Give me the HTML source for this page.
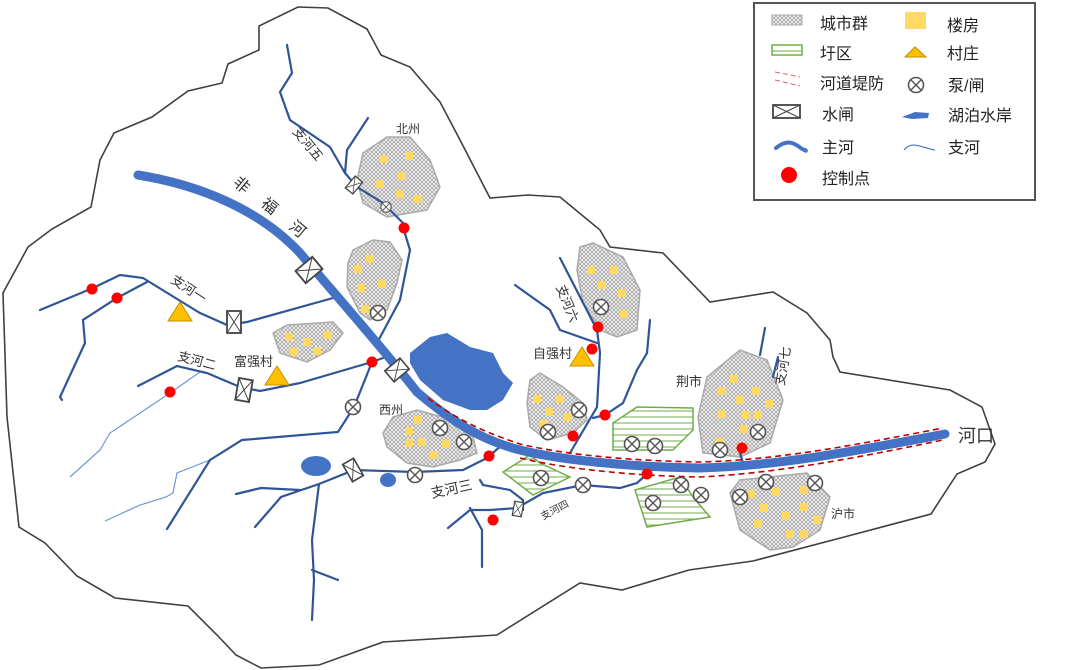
<!DOCTYPE html>
<html><head><meta charset="utf-8"><style>
html,body{margin:0;padding:0;background:#fff;}
svg{display:block;font-family:"Liberation Sans","Noto Sans CJK SC",sans-serif;}
</style></head><body>
<svg width="1080" height="670" viewBox="0 0 1080 670" xmlns="http://www.w3.org/2000/svg">
<defs>
<pattern id="hatch" width="4" height="4" patternUnits="userSpaceOnUse">
<rect width="4" height="4" fill="#f4f4f4"/>
<path d="M0 0L4 4M4 0L0 4" stroke="#999" stroke-width="0.7"/>
</pattern>
<pattern id="green" width="6" height="6" patternUnits="userSpaceOnUse">
<rect width="6" height="6" fill="#fff"/>
<path d="M0 3H6" stroke="#70AD47" stroke-width="1"/>
</pattern>
<g id="pump"><circle r="7.5" fill="#fff" stroke="#555" stroke-width="1.6"/><path d="M-5.3 -5.3L5.3 5.3M5.3 -5.3L-5.3 5.3" stroke="#555" stroke-width="1.4"/></g>
<g id="gate"><rect x="-11" y="-8" width="22" height="16" fill="#fff" stroke="#444" stroke-width="1.8"/><path d="M-11 -8L11 8M11 -8L-11 8" stroke="#444" stroke-width="1"/></g>
<g id="vgate"><rect x="-7" y="-11" width="14" height="22" fill="#fff" stroke="#444" stroke-width="1.8"/><path d="M-7 -11L7 11M7 -11L-7 11" stroke="#444" stroke-width="1"/></g>
<g id="tri"><path d="M0 -11L12 8H-12Z" fill="#FFC000" stroke="#C09000" stroke-width="1"/></g>
</defs>

<!-- boundary -->
<path d="M298 7L328 8L367 29L381 55L410 67L440 102L459 138L490 198L528 195L560 197L600 230L610 247L663 253L710 302L773 292L807 313L830 340L833 357L840 372L950 390L982 407L995 444L985 462L957 474L931 514L848 536L753 561L689 570L622 590L580 583L497 635L383 642L319 665L261 668L236 655L217 635L188 606L115 598L77 576L45 543L19 527L7 417L3 293L28 247L52 229L91 207L100 160L114 133L152 117L188 91L222 83L228 64L259 50L259 26Z" fill="#fff" stroke="#404040" stroke-width="1.6"/>

<!-- polders -->
<path d="M613 423L637 407L693 408L693 430L673 450L613 450Z" fill="url(#green)" stroke="#70AD47" stroke-width="1.5"/>
<path d="M503 472L530 455L540 463L570 477L533 495Z" fill="url(#green)" stroke="#70AD47" stroke-width="1.5"/>
<path d="M635 490L680 477L693 497L710 517L647 527Z" fill="url(#green)" stroke="#70AD47" stroke-width="1.5"/>

<!-- cities -->
<g fill="url(#hatch)" stroke="#aaa" stroke-width="1.5">
<path d="M363 153L387 137L410 137L430 160L440 187L427 210L387 217L363 203L357 180Z"/>
<path d="M353 250L373 240L390 242L402 260L397 283L387 310L370 320L360 313L347 287L348 263Z"/>
<path d="M273 333L287 325L333 322L343 333L330 350L307 362L280 353Z"/>
<path d="M383 433L393 417L417 410L453 420L473 437L477 453L460 460L433 467L407 463L387 447Z"/>
<path d="M530 380L540 373L563 387L583 403L587 420L573 433L547 440L530 427L527 403Z"/>
<path d="M580 247L593 243L623 257L640 290L637 330L617 337L600 330L583 303L577 270Z"/>
<path d="M707 377L740 350L767 360L783 400L770 443L740 457L703 453L698 417Z"/>
<path d="M730 493L740 480L807 473L830 497L820 530L793 547L770 550L740 530Z"/>
</g>
<!-- buildings -->
<g fill="#FFD966">
<rect x="380" y="155" width="8" height="8"/><rect x="405" y="152" width="8" height="8"/><rect x="398" y="172" width="8" height="8"/><rect x="376" y="180" width="8" height="8"/><rect x="396" y="190" width="8" height="8"/><rect x="414" y="195" width="8" height="8"/>
<rect x="366" y="255" width="8" height="8"/><rect x="354" y="265" width="8" height="8"/><rect x="357" y="284" width="8" height="8"/><rect x="378" y="280" width="8" height="8"/><rect x="361" y="305" width="8" height="8"/>
<rect x="285" y="333" width="8" height="8"/><rect x="303" y="338" width="8" height="8"/><rect x="324" y="331" width="8" height="8"/><rect x="290" y="348" width="8" height="8"/><rect x="313" y="347" width="8" height="8"/>
<rect x="414" y="416" width="8" height="8"/><rect x="405" y="427" width="8" height="8"/><rect x="405" y="439" width="8" height="8"/><rect x="418" y="438" width="8" height="8"/><rect x="442" y="440" width="8" height="8"/><rect x="430" y="451" width="8" height="8"/>
<rect x="533" y="395" width="8" height="8"/><rect x="556" y="395" width="8" height="8"/><rect x="545" y="408" width="8" height="8"/><rect x="564" y="413" width="8" height="8"/><rect x="540" y="420" width="8" height="8"/>
<rect x="587" y="266" width="8" height="8"/><rect x="610" y="266" width="8" height="8"/><rect x="598" y="281" width="8" height="8"/><rect x="618" y="289" width="8" height="8"/><rect x="620" y="310" width="8" height="8"/>
<rect x="730" y="375" width="8" height="8"/><rect x="718" y="387" width="8" height="8"/><rect x="752" y="387" width="8" height="8"/><rect x="736" y="396" width="8" height="8"/><rect x="765" y="400" width="8" height="8"/><rect x="718" y="410" width="8" height="8"/><rect x="742" y="411" width="8" height="8"/><rect x="754" y="411" width="8" height="8"/><rect x="740" y="425" width="8" height="8"/><rect x="716" y="438" width="8" height="8"/>
<rect x="747" y="490" width="8" height="8"/><rect x="772" y="488" width="8" height="8"/><rect x="800" y="486" width="8" height="8"/><rect x="760" y="504" width="8" height="8"/><rect x="800" y="503" width="8" height="8"/><rect x="782" y="512" width="8" height="8"/><rect x="813" y="516" width="8" height="8"/><rect x="754" y="520" width="8" height="8"/><rect x="786" y="530" width="8" height="8"/><rect x="800" y="530" width="8" height="8"/>
</g>

<!-- lakes -->
<path d="M410 353L430 337L447 333L470 347L493 353L503 373L513 383L503 400L487 410L470 410L443 400L420 380L410 363Z" fill="#4472C4"/>
<ellipse cx="316" cy="466" rx="15" ry="10" fill="#4472C4"/>
<ellipse cx="388" cy="480" rx="8" ry="7" fill="#4472C4"/>

<!-- light tributaries -->
<g fill="none" stroke="#6F96D6" stroke-width="1.2">
<path d="M200 372L170 393L110 433L100 450L70 477"/>
<path d="M210 460L177 473L173 493L166 497L140 505L105 521"/>
</g>
<!-- tributaries -->
<g fill="none" stroke="#2F5597" stroke-width="2.2" stroke-linecap="round">
<path d="M40 310L93 288L120 275L143 278L200 313L227 325L247 322L333 298"/>
<path d="M147 282L117 298L83 320L85 343L60 397L62 400"/>
<path d="M138 386L177 366L207 373L240 387L260 391L300 383L372 362L383 358"/>
<path d="M372 362L354 407L338 432L242 440L210 460L167 529"/>
<path d="M403 227L410 250L400 300L377 343"/>
<path d="M287 45L292 73L280 92L290 120L330 147L345 173L357 187L383 203L403 223"/>
<path d="M368 118L347 150L345 173"/>
<path d="M255 527L281 497L319 484L354 470L414 472L463 470L487 458L502 445"/>
<path d="M236 494L261 488L300 490"/>
<path d="M319 484L312 540L314 580L312 620"/>
<path d="M312 570L325 575L338 580"/>
<path d="M448 528L470 510L490 510L517 508L543 493L583 485L620 488L637 483L648 473"/>
<path d="M480 480L483 485L510 490L523 500L523 510"/>
<path d="M470 508L482 530L482 567"/>
<path d="M560 258L597 330L600 353L597 407L570 453"/>
<path d="M515 285L550 310L560 330L597 343"/>
<path d="M593 418L605 415L623 403L637 370L647 353L650 320"/>
<path d="M765 328L760 355"/><path d="M778 357L773 377"/>
<path d="M740 453L743 463"/>
</g>

<!-- main river -->
<path d="M138 175C200 185 260 210 300 253C340 300 380 345 417 392C450 420 480 440 520 450C560 460 630 467 700 468C780 466 860 450 945 434" fill="none" stroke="#4472C4" stroke-width="9" stroke-linecap="round"/>
<!-- levees -->
<path d="M428 398C460 422 490 434 520 444C570 456 640 461 700 462C780 460 860 444 943 428" fill="none" stroke="#C00000" stroke-width="1.6" stroke-dasharray="6 4"/>
<path d="M520 458C570 470 640 476 700 477C780 473 860 457 943 440" fill="none" stroke="#C00000" stroke-width="1.6" stroke-dasharray="6 4"/>

<!-- gates -->
<use href="#gate" transform="translate(309,270) rotate(-40)"/>
<use href="#gate" transform="translate(397,370) rotate(-40) scale(0.9)"/>
<use href="#vgate" transform="translate(234,322)"/>
<use href="#vgate" transform="translate(244,390) rotate(10)"/>
<use href="#vgate" transform="translate(353,470) rotate(-30) scale(0.9)"/>
<use href="#vgate" transform="translate(354,185) rotate(40) scale(0.7)"/>
<use href="#vgate" transform="translate(518,509) rotate(10) scale(0.65)"/>

<!-- pumps -->
<use href="#pump" transform="translate(386,207) scale(0.7)"/>
<use href="#pump" transform="translate(378,313)"/>
<use href="#pump" transform="translate(353,407)"/>
<use href="#pump" transform="translate(601,307)"/>
<use href="#pump" transform="translate(440,428)"/>
<use href="#pump" transform="translate(464,442)"/>
<use href="#pump" transform="translate(415,475)"/>
<use href="#pump" transform="translate(579,410)"/>
<use href="#pump" transform="translate(548,432)"/>
<use href="#pump" transform="translate(632,444)"/>
<use href="#pump" transform="translate(655,446)"/>
<use href="#pump" transform="translate(541,478)"/>
<use href="#pump" transform="translate(583,485)"/>
<use href="#pump" transform="translate(653,503)"/>
<use href="#pump" transform="translate(681,485)"/>
<use href="#pump" transform="translate(701,495)"/>
<use href="#pump" transform="translate(720,450)"/>
<use href="#pump" transform="translate(758,432)"/>
<use href="#pump" transform="translate(740,497)"/>
<use href="#pump" transform="translate(766,482)"/>
<use href="#pump" transform="translate(815,483)"/>

<!-- control points -->
<g fill="#FF0000">
<circle cx="404" cy="228" r="5.5"/><circle cx="92" cy="289" r="5.5"/><circle cx="117" cy="298" r="5.5"/><circle cx="372" cy="362" r="5.5"/><circle cx="170" cy="392" r="5.5"/><circle cx="598" cy="327" r="5.5"/><circle cx="592" cy="349" r="5.5"/><circle cx="605" cy="415" r="5.5"/><circle cx="573" cy="436" r="5.5"/><circle cx="489" cy="456" r="5.5"/><circle cx="647" cy="474" r="5.5"/><circle cx="742" cy="448" r="5.5"/><circle cx="493" cy="520" r="5.5"/>
</g>

<!-- villages -->
<use href="#tri" transform="translate(180,313)"/>
<use href="#tri" transform="translate(277,377)"/>
<use href="#tri" transform="translate(582,358)"/>

<!-- labels -->
<g fill="#333" font-size="13">
<text transform="translate(292,132) rotate(50)">支河五</text>
<text x="396" y="133" font-size="12">北州</text>
<text transform="translate(232,184) rotate(40)" font-size="16">非</text>
<text transform="translate(260,205) rotate(40)" font-size="16">福</text>
<text transform="translate(288,228) rotate(40)" font-size="16">河</text>
<text transform="translate(170,282) rotate(33)">支河一</text>
<text transform="translate(177,360) rotate(15)">支河二</text>
<text x="234" y="366">富强村</text>
<text x="379" y="414" font-size="12">西州</text>
<text transform="translate(432,498) rotate(-12)" font-size="14">支河三</text>
<text transform="translate(543,520) rotate(-28)" font-size="10">支河四</text>
<text transform="translate(556,287) rotate(68)">支河六</text>
<text x="533" y="358">自强村</text>
<text x="676" y="386">荆市</text>
<text transform="translate(784,386) rotate(-80)">支河七</text>
<text x="831" y="518" font-size="12">沪市</text>
<text x="958" y="442" font-size="18">河口</text>
</g>

<!-- legend -->
<rect x="754" y="3" width="281" height="197" fill="#fff" stroke="#555" stroke-width="2"/>
<rect x="772" y="15" width="30" height="10" fill="url(#hatch)" stroke="#aaa"/>
<rect x="772" y="45" width="30" height="10" fill="url(#green)" stroke="#70AD47" stroke-width="1.5"/>
<path d="M775 72L800 77M775 80L800 86" stroke="#E06060" stroke-width="1" stroke-dasharray="5 3"/>
<rect x="773" y="105" width="27" height="13" fill="#fff" stroke="#444" stroke-width="1.8"/><path d="M773 105L800 118M800 105L773 118" stroke="#444"/>
<path d="M776 148C786 140 792 142 798 146C803 150 808 152 805 150" fill="none" stroke="#4472C4" stroke-width="4" stroke-linecap="round"/>
<circle cx="789" cy="175" r="8" fill="#FF0000"/>
<rect x="905" y="12" width="21" height="17" fill="#FFD966"/>
<path d="M905 57L915 47L926 57Z" fill="#FFC000" stroke="#C09000"/>
<use href="#pump" transform="translate(916,85)"/>
<path d="M902 117L915 112L929 113L928 118L912 119Z" fill="#4472C4"/>
<path d="M904 150C912 140 922 148 935 150" fill="none" stroke="#4472C4" stroke-width="1.2"/>
<g fill="#222" font-size="16">
<text x="820" y="29">城市群</text>
<text x="820" y="59">圩区</text>
<text x="820" y="89">河道堤防</text>
<text x="822" y="120">水闸</text>
<text x="822" y="153">主河</text>
<text x="822" y="184">控制点</text>
<text x="947" y="31">楼房</text>
<text x="947" y="59">村庄</text>
<text x="948" y="91">泵/闸</text>
<text x="948" y="121">湖泊水岸</text>
<text x="948" y="153">支河</text>
</g>
</svg>
</body></html>
